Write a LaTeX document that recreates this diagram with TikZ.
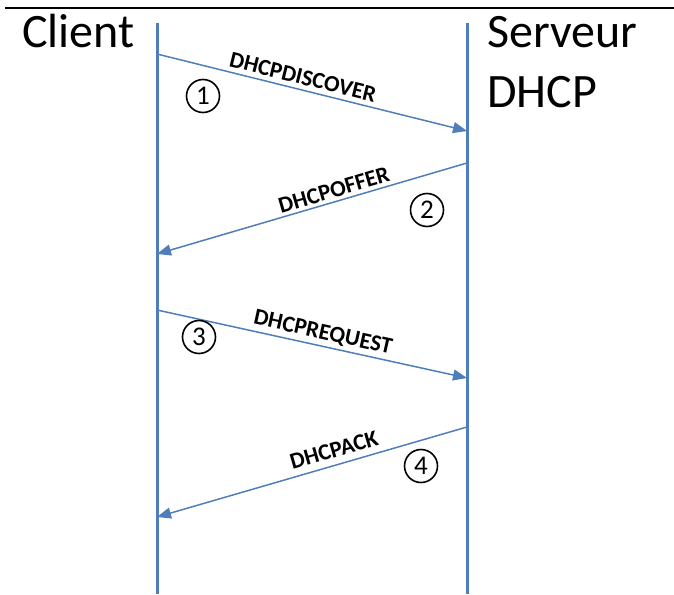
\documentclass[tikz,border=0pt]{standalone}
\usepackage{fontspec}
\setmainfont{Carlito}
\usetikzlibrary{arrows.meta}
\definecolor{lifeblue}{RGB}{79,126,187}
\begin{document}
\begin{tikzpicture}[x=1pt,y=-1pt,
  lifeline/.style={draw=lifeblue,line width=3pt},
  msg/.style={draw=lifeblue,line width=1.5pt,-{Triangle[length=14pt,width=11pt]}},
  lbl/.style={font=\fontsize{23}{23}\selectfont\bfseries,inner sep=0pt},
  numc/.style={circle,draw=black,line width=1.6pt,minimum size=33pt,inner sep=0pt,font=\fontsize{27}{27}\selectfont},
  title/.style={font=\fontsize{48}{48}\selectfont,anchor=base west,inner sep=0pt}]
\useasboundingbox (0,0) rectangle (674,594);
\draw[line width=2pt,black] (5,8) -- (674,8);
% actors
\node[title] (client) at (22,48) {Client};
\node[title] (serv1) at (487,48) {Serveur};
\node[title] (serv2) at (487,107) {DHCP};
% lifelines
\coordinate (ctop) at (157,23);
\coordinate (cbot) at (157,594);
\coordinate (stop) at (467,23);
\coordinate (sbot) at (467,594);
\draw[lifeline] (ctop) -- (cbot);
\draw[lifeline] (stop) -- (sbot);
% message end points
\coordinate (c1) at (157,54);
\coordinate (s1) at (467,131);
\coordinate (s2) at (467,163);
\coordinate (c2) at (157,254);
\coordinate (c3) at (157,310);
\coordinate (s3) at (467,378);
\coordinate (s4) at (467,427);
\coordinate (c4) at (157,517);
\draw[msg] (c1) -- (s1);
\draw[msg] (s2) -- (c2);
\draw[msg] (c3) -- (s3);
\draw[msg] (s4) -- (c4);
% labels
\node[lbl,rotate=-13.8] (l1) at (303,77) {DHCPDISCOVER};
\node[lbl,rotate=16.2] (l2) at (334,190) {DHCPOFFER};
\node[lbl,rotate=-12.4] (l3) at (323,333) {DHCPREQUEST};
\node[lbl,rotate=16.2] (l4) at (334,450) {DHCPACK};
% numbers
\node[numc] (n1) at (203,96) {1};
\node[numc] (n2) at (427,210) {2};
\node[numc] (n3) at (199,337) {3};
\node[numc] (n4) at (421,466) {4};
\end{tikzpicture}
\end{document}
